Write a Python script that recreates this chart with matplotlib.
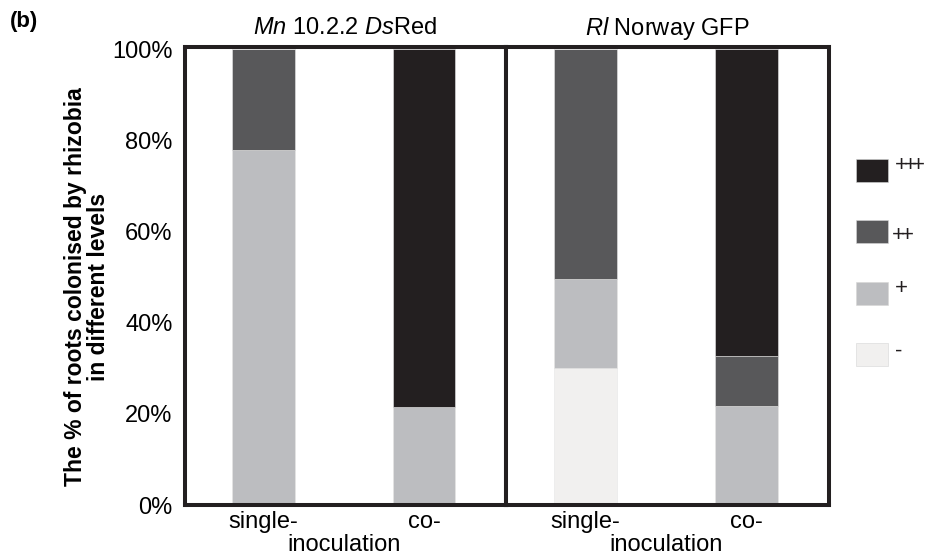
import numpy as np
import matplotlib.pyplot as plt
from matplotlib.patches import Rectangle

plt.rcParams['font.family'] = ['Liberation Sans', 'DejaVu Sans']
plt.rcParams['mathtext.fontset'] = 'custom'
plt.rcParams['mathtext.rm'] = 'Liberation Sans'
plt.rcParams['mathtext.it'] = 'Liberation Sans:italic'

# data (% of roots per colonisation level)
levels = ['-', '+', '++', '+++']
colors = ['#f1f0ef', '#bcbdc0', '#58585a', '#231f20']
groups = ['single-', 'co-']
titles = [r'$\mathit{Mn}$ 10.2.2 $\mathit{Ds}$Red', r'$\mathit{Rl}$ Norway GFP']

mn_vals = {'-': [0, 0], '+': [77.8, 21.4], '++': [22.2, 0], '+++': [0, 78.6]}
rl_vals = {'-': [30, 0], '+': [19.6, 21.8], '++': [50.4, 11.0], '+++': [0, 67.2]}
panels = [mn_vals, rl_vals]

fig = plt.figure(figsize=(9.28, 5.59), dpi=100)
W, H = 928, 559
lw = 2.9
fs = 17
axes_px = [(185, 506), (506, 829)]
top, bot = 47, 505

for i, (vals, (x0, x1)) in enumerate(zip(panels, axes_px)):
    ax = fig.add_axes([x0 / W, 1 - bot / H, (x1 - x0) / W, (bot - top) / H])
    x = np.arange(len(groups))
    bottom = np.zeros(len(groups))
    for lev, c in zip(levels, colors):
        v = np.array(vals[lev], dtype=float)
        ax.bar(x, v, 0.39, bottom=bottom, color=c, edgecolor='#e6e6e6', linewidth=0.4)
        bottom += v
    ax.set_xlim(-0.49, 1.51)
    ax.set_ylim(0, 100.5)
    for s in ax.spines.values():
        s.set_linewidth(lw)
        s.set_color('#231f20')
    ax.set_xticks(x)
    ax.set_xticklabels(groups, fontsize=fs)
    ax.tick_params(axis='x', length=0, pad=4)
    ax.text(0.5, -0.064, 'inoculation', transform=ax.get_xaxis_transform(),
            ha='center', va='top', fontsize=fs)
    ax.set_title(titles[i], fontsize=fs, pad=9)
    if i == 0:
        ax.set_yticks([0, 20, 40, 60, 80, 100])
        ax.set_yticklabels(['0%', '20%', '40%', '60%', '80%', '100%'], fontsize=fs)
        ax.tick_params(axis='y', length=0, pad=9)
    else:
        ax.set_yticks([])

fig.text(10 / W, 1 - 22 / H, '(b)', fontsize=16, fontweight='bold', va='center')
fig.text(87 / W, 1 - 287 / H, 'The % of roots colonised by rhizobia\nin different levels',
         rotation=90, ha='center', va='center', fontsize=16.5, fontweight='bold',
         multialignment='center', linespacing=0.95)

# legend, top row is +++ ; the pluses are packed tight like in the original
leg_top, leg_step = 159, 61.3
lab_x = {'+++': 895, '++': 892, '+': 895, '-': 895}
lab_dy = {'+++': 7, '++': 15, '+': 7, '-': 8}
for k, (lev, c) in enumerate(zip(levels[::-1], colors[::-1])):
    y = leg_top + k * leg_step
    fig.add_artist(Rectangle((856 / W, 1 - (y + 23) / H), 32 / W, 23 / H,
                             transform=fig.transFigure, facecolor=c,
                             edgecolor='#d6d6d6', linewidth=0.4))
    for j, ch in enumerate(lev):
        fig.text((lab_x[lev] + j * 8.5) / W, 1 - (y + lab_dy[lev]) / H, ch,
                 fontsize=16, va='center', ha='left', color='#231f20')

fig.savefig('out.png', dpi=100)
